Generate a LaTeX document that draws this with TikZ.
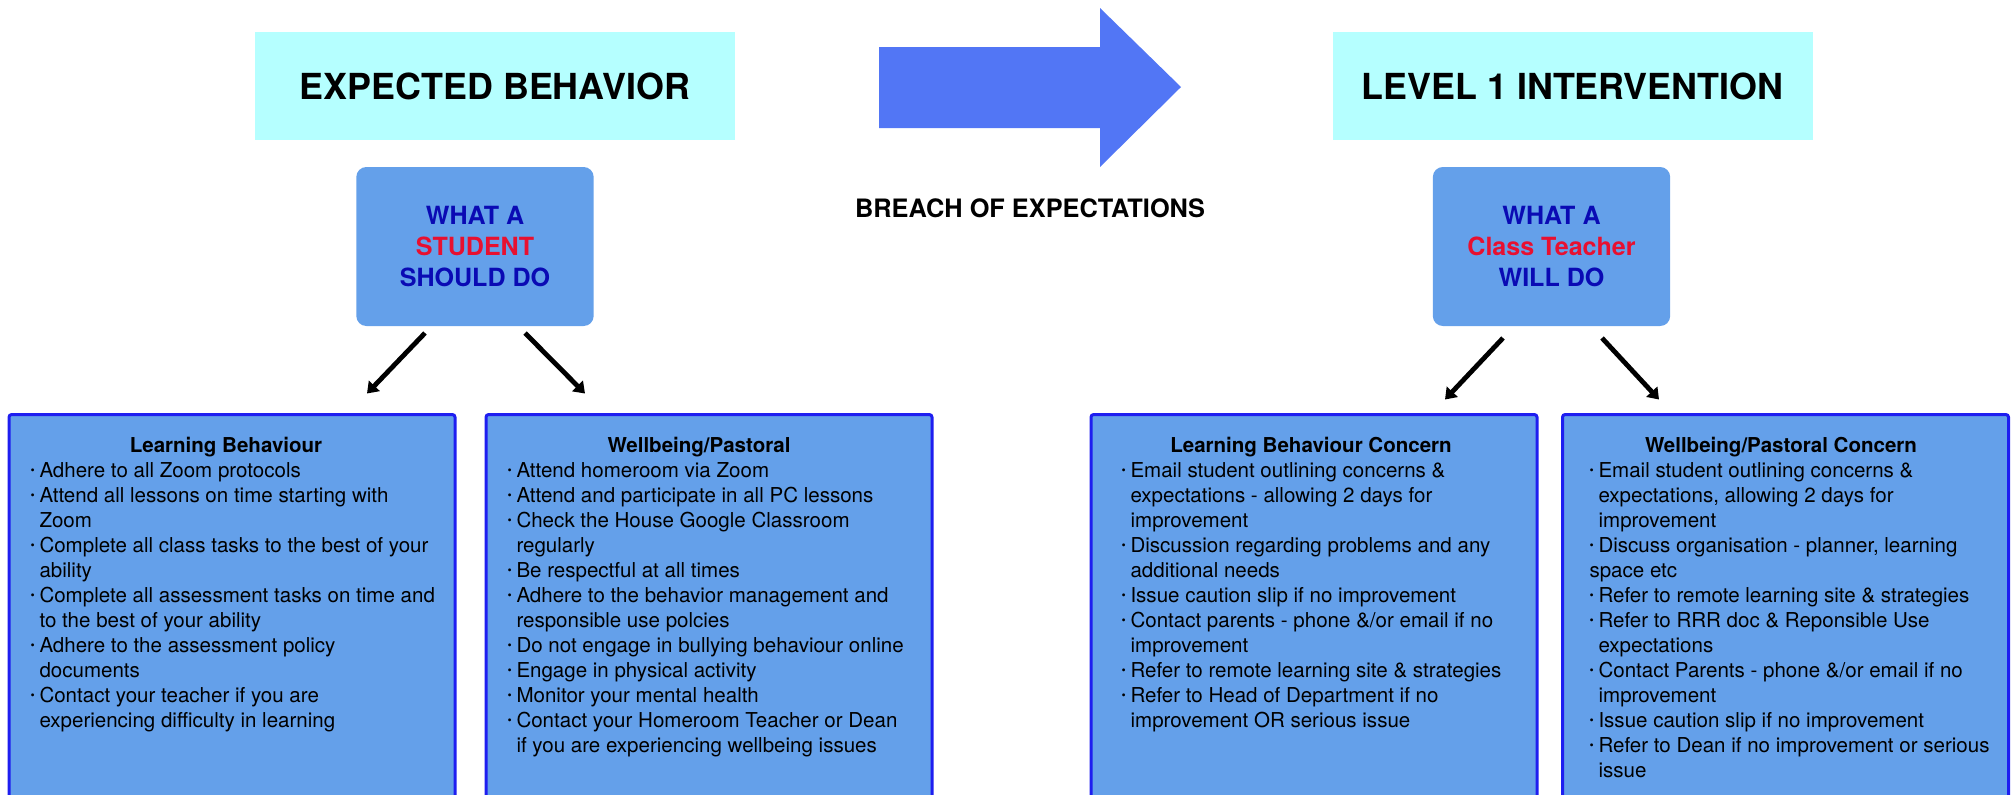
\documentclass[tikz,border=0pt]{standalone}
\usepackage{fontspec}
\setmainfont{TeX Gyre Heros}
\usetikzlibrary{arrows.meta,calc}

\definecolor{headcyan}{RGB}{181,255,255}
\definecolor{boxblue}{RGB}{100,160,234}
\definecolor{edgeblue}{RGB}{30,30,240}
\definecolor{darkblue}{RGB}{10,10,180}
\definecolor{alertred}{RGB}{232,16,48}
\definecolor{breachblue}{RGB}{82,118,245}

\newcommand{\bul}{\makebox[6.75pt][l]{\raisebox{2pt}{\fontsize{9}{9}\selectfont\textbullet}}}
\newcommand{\ind}{\hspace*{6.75pt}}

\tikzset{every picture/.style={line width=0.75pt}}
\tikzset{
  headbox/.style={fill=headcyan, minimum width=360pt, minimum height=81pt, inner sep=0pt, font=\fontsize{26.9}{32}\selectfont\bfseries},
  whatbox/.style={fill=boxblue, rounded corners=7.5pt, minimum width=178pt, minimum height=119.25pt, inner sep=0pt, align=center, text=darkblue, font=\fontsize{18.8}{23.25}\selectfont\bfseries},
  listbox/.style={draw=edgeblue, line width=2.25pt, fill=boxblue, rounded corners=2pt, minimum width=334.5pt, minimum height=315pt, anchor=north},
  listtitle/.style={anchor=base, inner sep=0pt, font=\fontsize{15.4}{18.75}\selectfont\bfseries},
  listtext/.style={anchor=north west, inner sep=0pt, align=left, font=\fontsize{15.4}{18.75}\selectfont},
  flowarrow/.style={line width=3.6pt, -{Triangle[length=8pt,width=11pt]}},
}

\begin{document}
\begin{tikzpicture}[x=0.75pt,y=0.75pt,yscale=-1,xscale=1]
\useasboundingbox (0,0) rectangle (2011,794);
\clip (0,0) rectangle (2011,794);

%Shape: Headers
\node[headbox] (expected) at (495,86) {EXPECTED BEHAVIOR};
\node[headbox] (level) at (1572.5,86) {LEVEL 1 INTERVENTION};

%Shape: Right Arrow
\fill[breachblue] (879,47) -- (1100,47) -- (1100,8) -- (1181,87) -- (1100,167) -- (1100,128) -- (879,128) -- cycle;
% Text Node
\node[inner sep=0pt, font=\fontsize{19}{23}\selectfont\bfseries] (breach) at (1030,208) {BREACH OF EXPECTATIONS};

%Shape: Rounded Rectangles
\node[whatbox] (student) at (475,246.5) {WHAT A\\\textcolor{alertred}{STUDENT}\\SHOULD DO};
\node[whatbox] (teacher) at (1551.5,246.5) {WHAT A\\\textcolor{alertred}{Class Teacher}\\WILL DO};

%Shape: Lists
\node[listbox] (learn) at (232,413) {};
\node[listbox] (well) at (709,413) {};
\node[listbox] (concern) at (1314,413) {};
\node[listbox] (pastoral) at (1785.5,413) {};

% Text Node
\node[listtitle] (learntitle) at (226,452) {Learning Behaviour};
\node[listtext] (learnlist) at (30,459.5) {\strut\bul Adhere to all Zoom protocols\\
\bul Attend all lessons on time starting with\\
\ind Zoom\\
\bul Complete all class tasks to the best of your\\
\ind ability\\
\bul Complete all assessment tasks on time and\\
\ind to the best of your ability\\
\bul Adhere to the assessment policy\\
\ind documents\\
\bul Contact your teacher if you are\\
\ind experiencing difficulty in learning};
% Text Node
\node[listtitle] (welltitle) at (699,452) {Wellbeing/Pastoral};
\node[listtext] (welllist) at (507,459.5) {\strut\bul Attend homeroom via Zoom\\
\bul Attend and participate in all PC lessons\\
\bul Check the House Google Classroom\\
\ind regularly\\
\bul Be respectful at all times\\
\bul Adhere to the behavior management and\\
\ind responsible use polcies\\
\bul Do not engage in bullying behaviour online\\
\bul Engage in physical activity\\
\bul Monitor your mental health\\
\bul Contact your Homeroom Teacher or Dean\\
\ind if you are experiencing wellbeing issues};
% Text Node
\node[listtitle] (concerntitle) at (1311,452) {Learning Behaviour Concern};
\node[listtext] (concernlist) at (1121,459.5) {\strut\bul Email student outlining concerns \&\\
\ind expectations - allowing 2 days for\\
\ind improvement\\
\bul Discussion regarding problems and any\\
\ind additional needs\\
\bul Issue caution slip if no improvement\\
\bul Contact parents - phone \&/or email if no\\
\ind improvement\\
\bul Refer to remote learning site \& strategies\\
\bul Refer to Head of Department if no\\
\ind improvement OR serious issue};
% Text Node
\node[listtitle] (pastoraltitle) at (1781,452) {Wellbeing/Pastoral Concern};
\node[listtext] (pastorallist) at (1589,459.5) {\strut\bul Email student outlining concerns \&\\
\ind expectations, allowing 2 days for\\
\ind improvement\\
\bul Discuss organisation - planner, learning\\
space etc\\
\bul Refer to remote learning site \& strategies\\
\bul Refer to RRR doc \& Reponsible Use\\
\ind expectations\\
\bul Contact Parents - phone \&/or email if no\\
\ind improvement\\
\bul Issue caution slip if no improvement\\
\bul Refer to Dean if no improvement or serious\\
\ind issue};

%Straight Lines
\draw[flowarrow] ($(student.south)+(-50,6.5)$) -- ($(learn.north)+(135,-19.5)$);
\draw[flowarrow] ($(student.south)+(50,6.5)$) -- ($(well.north)+(-124,-19.5)$);
\draw[flowarrow] ($(teacher.south)+(-48.5,11.5)$) -- ($(concern.north)+(131,-13.5)$);
\draw[flowarrow] ($(teacher.south)+(50.5,11.5)$) -- ($(pastoral.north)+(-126.5,-13.5)$);

\end{tikzpicture}
\end{document}
